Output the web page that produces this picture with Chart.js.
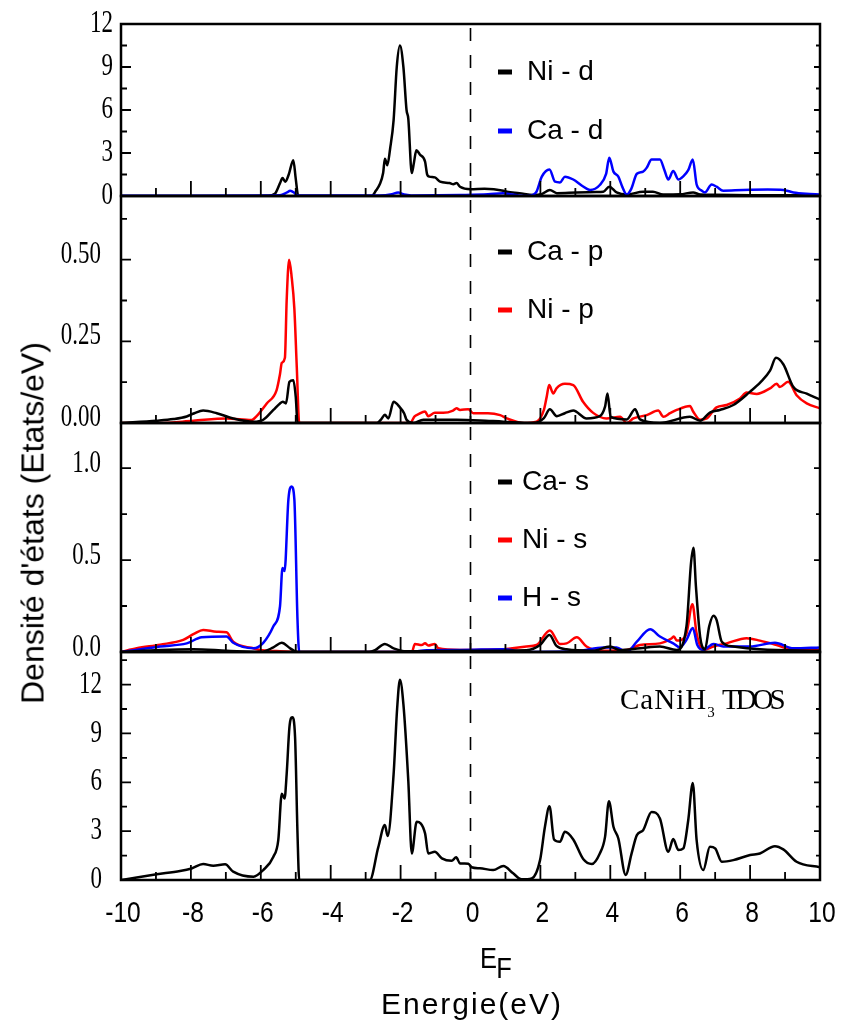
<!DOCTYPE html>
<html>
<head>
<meta charset="utf-8">
<script src="https://cdn.jsdelivr.net/npm/chart.js@4.4.1/dist/chart.umd.min.js"></script>
<style>
  body { margin: 0; background: #fff; }
  #wrap { position: relative; width: 842px; height: 1028px; overflow: hidden; }
  #wrap canvas { position: absolute; left: 0; top: 0; }
  .txt { position: absolute; white-space: nowrap; line-height: 1; color: #000; }
  #yTitle { left: 33px; top: 523px; font: 32px 'Liberation Sans', Arial, sans-serif; transform: translate(-50%, -50%) rotate(-90deg); }
  #ef { left: 480px; top: 941px; font: 30px 'Liberation Sans', Arial, sans-serif; transform: scaleX(0.85); transform-origin: left top; }
  #ef sub { font-size: 30px; vertical-align: baseline; position: relative; top: 10px; margin-left: -1px; }
  #xTitle { left: 472px; top: 987px; transform: translateX(-50%); font: 30px 'Liberation Sans', Arial, sans-serif; letter-spacing: 2px; }
  #tdos { left: 620px; top: 683px; font: 29px 'Liberation Serif', serif; }
  #tdos .sp { letter-spacing: 1px; }
  #tdos .tight { letter-spacing: -4px; }
  #tdos sub { font-size: 15px; vertical-align: baseline; position: relative; top: 8px; }
</style>
</head>
<body>
<div id="wrap">
  <canvas id="p1" width="842" height="1028"></canvas>
  <canvas id="p2" width="842" height="1028"></canvas>
  <canvas id="p3" width="842" height="1028"></canvas>
  <canvas id="p4" width="842" height="1028"></canvas>
  <div class="txt" id="yTitle">Densité d'états (Etats/eV)</div>
  <div class="txt" id="ef">E<sub>F</sub></div>
  <div class="txt" id="xTitle">Energie(eV)</div>
  <div class="txt" id="tdos"><span class="sp">CaNiH</span><sub>3</sub> <span class="tight">TDOS</span></div>
</div>
<script>
// tick labels
const xTicks = [-10, -8, -6, -4, -2, 0, 2, 4, 6, 8, 10];
const p1Ticks = [0, 3, 6, 9, 12];
const p2Ticks = [0, 0.25, 0.5];
const p3Ticks = [0, 0.5, 1.0];
const p4Ticks = [0, 3, 6, 9, 12];

// [energy, DOS] pairs
const niD = [[-10,0],[-6.5,0],[-5.8,0.02],[-5.6,0.15],[-5.45,0.9],[-5.38,1.25],[-5.3,1.0],[-5.2,1.5],[-5.07,2.5],[-5.0,1.2],[-4.93,0.02],[-4.5,0],[-3.2,0],[-2.83,0],[-2.7,0.4],[-2.6,0.8],[-2.5,1.6],[-2.45,2.6],[-2.38,2.15],[-2.3,3.3],[-2.2,5.3],[-2.11,9.0],[-2.02,10.5],[-1.92,9.0],[-1.83,6.0],[-1.78,5.4],[-1.68,1.6],[-1.62,2.3],[-1.55,3.2],[-1.45,2.9],[-1.3,2.4],[-1.24,1.5],[-1.18,1.35],[-1.02,1.3],[-0.87,1.0],[-0.6,0.9],[-0.49,0.82],[-0.4,0.9],[-0.3,0.65],[0,0.47],[0.4,0.5],[0.94,0.37],[1.04,0.3],[1.4,0.2],[1.8,0.07],[2.05,0.15],[2.27,0.42],[2.47,0.2],[3.04,0.25],[3.6,0.28],[3.8,0.3],[3.97,0.65],[4.18,0.25],[4.47,0.1],[4.94,0.3],[5.22,0.3],[5.51,0.1],[6.0,0.12],[6.37,0.25],[6.57,0.1],[7.0,0.08],[8.0,0.06],[9.0,0.05],[10,0.04]];
const caD = [[-10,0.02],[-6,0.03],[-5.45,0.05],[-5.25,0.25],[-5.16,0.37],[-5.05,0.25],[-4.95,0.03],[-2.6,0.03],[-2.25,0.12],[-2.07,0.25],[-1.9,0.1],[-1.7,0.04],[-1,0.05],[-0.3,0.07],[0.5,0.12],[0.93,0.2],[1.2,0.1],[1.6,0.0],[1.8,0.1],[1.89,0.3],[2.04,1.35],[2.26,1.85],[2.42,1.0],[2.56,0.95],[2.7,1.35],[2.94,1.15],[3.2,0.7],[3.42,0.42],[3.7,0.77],[3.88,1.55],[3.97,2.67],[4.09,1.7],[4.23,1.35],[4.35,0.6],[4.47,0.1],[4.6,0.5],[4.76,1.55],[4.94,1.7],[5.05,2.0],[5.18,2.55],[5.42,2.55],[5.55,1.8],[5.66,1.15],[5.8,1.75],[5.95,1.15],[6.1,1.4],[6.23,1.8],[6.36,2.55],[6.47,0.8],[6.6,0.4],[6.71,0.25],[6.9,0.8],[7.04,0.65],[7.23,0.37],[7.8,0.42],[8.5,0.45],[8.95,0.42],[9.24,0.25],[9.6,0.15],[10,0.1]];

const caP = [[-10,0],[-8.98,0.007],[-8.5,0.012],[-8.12,0.02],[-7.9,0.03],[-7.65,0.038],[-7.26,0.03],[-6.79,0.014],[-6.21,0.004],[-5.93,0.01],[-5.64,0.04],[-5.45,0.06],[-5.37,0.065],[-5.28,0.06],[-5.18,0.126],[-5.07,0.131],[-5.0,0.08],[-4.95,0],[-2.68,0],[-2.55,0.012],[-2.45,0.025],[-2.35,0.014],[-2.2,0.065],[-2.02,0.048],[-1.9,0.03],[-1.83,0.01],[-1.64,0],[-1.35,0.01],[-0.4,0.01],[0.27,0.008],[0.94,0.004],[1.8,0],[2.1,0.015],[2.27,0.042],[2.47,0.021],[2.7,0.03],[2.94,0.038],[3.32,0.014],[3.7,0.021],[3.85,0.05],[3.92,0.09],[4.01,0.019],[4.47,0.011],[4.71,0.042],[4.85,0.011],[5.42,0],[6.28,0.019],[6.57,0.007],[6.85,0.032],[7.13,0.04],[7.52,0.055],[8.0,0.096],[8.3,0.125],[8.57,0.16],[8.74,0.2],[8.95,0.18],[9.24,0.11],[9.62,0.09],[10,0.072]];
const niP = [[-10,0],[-8.88,0],[-7.93,0.007],[-6.98,0.014],[-6.26,0.009],[-6.12,0.021],[-5.83,0.06],[-5.55,0.1],[-5.45,0.15],[-5.4,0.184],[-5.31,0.2],[-5.26,0.375],[-5.19,0.5],[-5.12,0.45],[-5.04,0.35],[-4.97,0.17],[-4.9,0],[-1.73,0],[-1.6,0.02],[-1.49,0.027],[-1.3,0.035],[-1.21,0.021],[-1.02,0.031],[-0.78,0.031],[-0.5,0.038],[-0.4,0.045],[-0.3,0.04],[-0.06,0.042],[0.08,0.03],[0.5,0.03],[0.85,0.024],[1.04,0.014],[1.51,0],[1.89,0.004],[2.1,0.04],[2.18,0.08],[2.25,0.116],[2.37,0.09],[2.46,0.106],[2.7,0.12],[2.94,0.116],[3.22,0.065],[3.51,0.031],[3.89,0.014],[4.28,0.019],[4.47,0],[4.66,0.014],[5.04,0.024],[5.37,0.038],[5.52,0.019],[5.71,0.03],[5.9,0.04],[6.28,0.052],[6.37,0.035],[6.57,0.01],[6.76,0.014],[7.04,0.048],[7.33,0.055],[7.71,0.075],[7.9,0.093],[8.19,0.089],[8.57,0.106],[8.76,0.12],[8.85,0.11],[9.09,0.126],[9.33,0.085],[9.62,0.06],[10,0.045]];

const caS = [[-10,0],[-8.88,0.011],[-7.93,0.015],[-6.98,0.007],[-6.0,0],[-5.64,0.025],[-5.4,0.05],[-5.16,0.02],[-4.95,0],[-2.9,0],[-2.73,0.01],[-2.45,0.044],[-2.2,0.02],[-1.83,0.004],[-0.3,0.007],[1.6,0.01],[1.99,0.038],[2.26,0.093],[2.46,0.033],[2.75,0.015],[3.51,0.007],[3.99,0.03],[4.28,0.01],[4.85,0.02],[5.42,0.03],[5.9,0.011],[6.18,0.14],[6.31,0.485],[6.38,0.567],[6.45,0.357],[6.57,0.084],[6.71,0.015],[6.83,0.14],[6.95,0.197],[7.04,0.175],[7.19,0.056],[7.52,0.03],[8.28,0.015],[10,0.007]];
const niS = [[-10,0],[-9.55,0.02],[-8.88,0.04],[-8.22,0.066],[-7.9,0.1],[-7.65,0.12],[-7.26,0.11],[-6.98,0.107],[-6.79,0.056],[-6.21,0.02],[-6.02,0.011],[-5.55,0.005],[-4.88,0],[-1.68,0],[-1.59,0.044],[-1.4,0.038],[-1.3,0.047],[-1.21,0.035],[-1.02,0.044],[-0.92,0.02],[-0.3,0.011],[0.94,0.015],[1.6,0.03],[1.89,0.038],[2.27,0.117],[2.56,0.044],[2.75,0.047],[3.04,0.08],[3.32,0.03],[3.7,0.007],[4.47,0.011],[4.85,0.038],[5.42,0.047],[5.76,0.075],[5.82,0.084],[5.9,0.062],[6.04,0.066],[6.18,0.1],[6.35,0.26],[6.47,0.1],[6.66,0.011],[6.95,0.03],[7.33,0.047],[7.9,0.075],[8.28,0.062],[8.76,0.038],[9.24,0.011],[10,0.011]];
const hS = [[-10,0],[-8.88,0.03],[-8.12,0.047],[-7.69,0.08],[-6.98,0.084],[-6.79,0.05],[-6.21,0.02],[-5.93,0.05],[-5.64,0.14],[-5.45,0.25],[-5.38,0.457],[-5.32,0.44],[-5.21,0.83],[-5.12,0.9],[-5.04,0.83],[-4.95,0.175],[-4.9,0],[-1.7,0],[-1.25,0.01],[-0.3,0.011],[0.94,0.015],[1.6,0],[3.04,0.005],[3.8,0.024],[4.18,0.025],[4.47,0],[4.76,0.056],[5.14,0.124],[5.42,0.084],[5.8,0.047],[5.99,0.025],[6.18,0.066],[6.36,0.13],[6.49,0.038],[6.66,0.011],[6.95,0.044],[7.23,0.03],[8.0,0.03],[8.71,0.05],[9.24,0.02],[10,0.025]];

const tdos = [[-10,0],[-9.55,0.16],[-8.98,0.35],[-8.31,0.55],[-7.98,0.71],[-7.65,0.98],[-7.36,0.88],[-7.02,0.96],[-6.79,0.51],[-6.21,0.2],[-5.93,0.61],[-5.64,1.43],[-5.5,2.45],[-5.4,5.3],[-5.32,5.0],[-5.26,6.5],[-5.18,9.4],[-5.1,10.0],[-5.02,8.8],[-4.95,2.86],[-4.9,0],[-2.88,0],[-2.64,2.0],[-2.45,3.37],[-2.37,2.7],[-2.2,6.5],[-2.1,10.5],[-2.02,12.3],[-1.92,10.8],[-1.78,6.1],[-1.68,1.63],[-1.54,3.57],[-1.3,2.86],[-1.21,1.63],[-1.02,1.73],[-0.82,1.33],[-0.54,1.18],[-0.41,1.39],[-0.3,1.02],[-0.06,1.0],[0.03,0.78],[0.27,0.72],[0.65,0.61],[0.94,0.86],[1.22,0.41],[1.46,0.04],[1.75,0.1],[1.99,1.22],[2.13,3.27],[2.26,4.53],[2.39,2.49],[2.56,2.35],[2.7,2.96],[2.94,2.49],[3.23,1.27],[3.47,0.98],[3.7,1.63],[3.85,2.65],[3.96,4.84],[4.09,3.27],[4.23,2.55],[4.44,0.31],[4.61,1.63],[4.76,2.76],[4.94,3.06],[5.18,4.18],[5.42,3.78],[5.66,1.73],[5.8,2.51],[5.95,1.84],[6.09,1.94],[6.23,3.67],[6.36,5.96],[6.47,2.45],[6.66,0.61],[6.85,2.04],[7.0,1.94],[7.19,1.12],[7.52,1.22],[8.0,1.53],[8.28,1.63],[8.71,2.08],[8.95,1.88],[9.33,1.12],[10,0.78]];

const sans = "'Liberation Sans', Arial, sans-serif";
const serif = "'Liberation Serif', 'Times New Roman', serif";

// frame, inward ticks, condensed tick labels, Fermi level line and in-plot legend
const panelDeco = {
  id: 'panelDeco',
  beforeDatasetsDraw(chart) {
    const { ctx, chartArea: a, scales: { x } } = chart;
    const px = x.getPixelForValue(0);
    ctx.save();
    ctx.strokeStyle = '#000';
    ctx.lineWidth = 1.6;
    ctx.setLineDash([13, 14]);
    ctx.beginPath();
    ctx.moveTo(px, a.top + 4);
    ctx.lineTo(px, a.bottom);
    ctx.stroke();
    ctx.restore();
  },
  afterDraw(chart, args, opts) {
    const { ctx, chartArea: a, scales: { x, y } } = chart;
    ctx.save();
    ctx.strokeStyle = '#000';
    ctx.lineWidth = 2.5;
    ctx.strokeRect(a.left, a.top, a.right - a.left, a.bottom - a.top);
    ctx.lineWidth = 1.8;
    ctx.beginPath();
    for (let v = x.min; v <= x.max; v++) {
      const px = x.getPixelForValue(v);
      ctx.moveTo(px, a.bottom);
      ctx.lineTo(px, a.bottom - (v % 2 === 0 ? 15 : 8));
    }
    for (let i = 0; ; i++) {
      const v = y.min + i * opts.minor;
      if (v > y.max + 1e-9) break;
      const py = y.getPixelForValue(v);
      const major = i % 2 === 0;
      ctx.moveTo(a.left, py);
      ctx.lineTo(a.left + (major ? 10 : 6), py);
      ctx.moveTo(a.right, py);
      ctx.lineTo(a.right - (major ? 6 : 4), py);
    }
    ctx.stroke();

    // y tick labels (narrow serif)
    ctx.fillStyle = '#000';
    ctx.textBaseline = 'middle';
    ctx.textAlign = 'right';
    ctx.font = '31px ' + serif;
    y.ticks.forEach(t => {
      ctx.save();
      ctx.translate(a.left - opts.labelPad, y.getPixelForValue(t.value) + opts.labelShift);
      ctx.scale(0.74, 1);
      ctx.fillText(t.value.toFixed(opts.dec), 0, 0);
      ctx.restore();
    });

    // x tick labels only under the last panel
    if (opts.showX) {
      ctx.textAlign = 'center';
      ctx.font = '30px ' + sans;
      x.ticks.forEach(t => {
        ctx.save();
        ctx.translate(x.getPixelForValue(t.value) + 2, a.bottom + 34);
        ctx.scale(0.82, 1);
        ctx.fillText(String(t.value), 0, 0);
        ctx.restore();
      });
    }

    ctx.font = '28px ' + sans;
    ctx.textAlign = 'left';
    (opts.legendY || []).forEach((ly, i) => {
      const ds = chart.data.datasets[i];
      ctx.fillStyle = ds.borderColor;
      ctx.fillRect(498, ly - 2.5, 14, 5);
      ctx.fillStyle = '#000';
      ctx.fillText(ds.label, opts.legendX, ly);
    });
    ctx.restore();
  }
};

function makePanel(id, o) {
  return new Chart(document.getElementById(id), {
    type: 'line',
    data: {
      datasets: o.series.map(s => ({
        label: s.label,
        data: s.data.map(([x, y]) => ({ x, y })),
        borderColor: s.color,
        borderWidth: 2.5,
        pointRadius: 0,
        fill: false,
        cubicInterpolationMode: 'monotone',
        order: s.order || 0
      }))
    },
    options: {
      responsive: false,
      animation: false,
      devicePixelRatio: 1,
      layout: { padding: { top: o.top, bottom: 1028 - o.bottom, left: 121, right: 22 } },
      plugins: {
        legend: { display: false },
        tooltip: { enabled: false },
        panelDeco: {
          minor: o.minor, dec: o.dec, labelPad: o.labelPad, labelShift: o.labelShift || 0,
          showX: !!o.showX, legendX: o.legendX, legendY: o.legendY
        }
      },
      scales: {
        x: {
          type: 'linear', min: -10, max: 10, display: false,
          afterBuildTicks: s => { s.ticks = xTicks.map(v => ({ value: v })); }
        },
        y: {
          min: o.min, max: o.max, display: false,
          afterBuildTicks: s => { s.ticks = o.ticks.map(v => ({ value: v })); }
        }
      }
    },
    plugins: [panelDeco]
  });
}

makePanel('p1', {
  top: 24, bottom: 196, min: 0, max: 12, ticks: p1Ticks, minor: 1.5, dec: 0, labelPad: 8,
  legendX: 527, legendY: [72, 131],
  series: [
    { label: 'Ni - d', data: niD, color: '#000000', order: 2 },
    { label: 'Ca - d', data: caD, color: '#0000ff', order: 1 }
  ]
});

makePanel('p2', {
  top: 196, bottom: 423, min: 0, max: 0.695, ticks: p2Ticks, minor: 0.125, dec: 2, labelPad: 20, labelShift: -5,
  legendX: 527, legendY: [252, 310],
  series: [
    { label: 'Ca - p', data: caP, color: '#000000' },
    { label: 'Ni - p', data: niP, color: '#ff0000' }
  ]
});

makePanel('p3', {
  top: 423, bottom: 652, min: 0, max: 1.245, ticks: p3Ticks, minor: 0.25, dec: 1, labelPad: 20, labelShift: -4,
  legendX: 522, legendY: [482, 540, 598],
  series: [
    { label: 'Ca- s', data: caS, color: '#000000', order: 0 },
    { label: 'Ni - s', data: niS, color: '#ff0000', order: 2 },
    { label: 'H - s', data: hS, color: '#0000ff', order: 1 }
  ]
});

makePanel('p4', {
  top: 652, bottom: 880, min: 0, max: 14, ticks: p4Ticks, minor: 1.5, dec: 0, labelPad: 19,
  showX: true,
  series: [
    { label: 'CaNiH3 TDOS', data: tdos, color: '#000000' }
  ]
});
</script>
</body>
</html>
